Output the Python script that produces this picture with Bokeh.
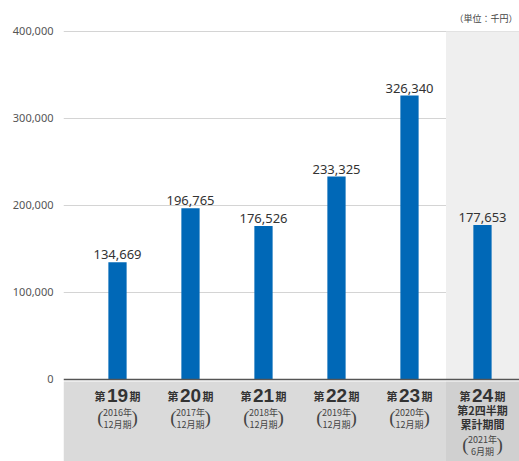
from bokeh.plotting import figure
from bokeh.models import ColumnDataSource, BoxAnnotation, Span, FixedTicker, Label, Range1d, NumeralTickFormatter
from bokeh.core.properties import value
from bokeh.embed import file_html
from bokeh.resources import INLINE

# ---- data ----
periods = ["19", "20", "21", "22", "23", "24"]
sales = [134669, 196765, 176526, 233325, 326340, 177653]
value_labels = ["134,669", "196,765", "176,526", "233,325", "326,340", "177,653"]
year_labels = ["2016年", "2017年", "2018年", "2019年", "2020年", "2021年"]
month_labels = ["12月期", "12月期", "12月期", "12月期", "12月期", "6月期"]
extra_line1 = "第2四半期"
extra_line2 = "累計期間"
y_ticks = [0, 100000, 200000, 300000, 400000]
unit_label = "（単位：千円）"

xs = list(range(len(periods)))
n_reg = 5  # regular (full-year) periods

FONT = "Noto Sans"
CJK = "Noto Sans CJK JP"

p = figure(width=519, height=461, output_backend="svg", toolbar_location=None,
           x_range=Range1d(-0.7397, 5.507), y_range=Range1d(-94253, 435632),
           min_border_left=63, min_border_right=0, min_border_top=0, min_border_bottom=0)
p.outline_line_color = None
p.xaxis.visible = False
p.xgrid.visible = False

# y axis
p.yaxis.ticker = FixedTicker(ticks=y_ticks)
p.yaxis.formatter = NumeralTickFormatter(format="0,0")
p.yaxis.axis_line_color = None
p.yaxis.major_tick_line_color = None
p.yaxis.minor_tick_line_color = None
p.yaxis.major_label_text_font = FONT
p.yaxis.major_label_text_font_size = "11px"
p.yaxis.major_label_text_color = "#555555"
p.yaxis.major_label_standoff = 4
p.ygrid.ticker = FixedTicker(ticks=y_ticks[1:])
p.ygrid.grid_line_color = "#d4d4d4"
p.ygrid.grid_line_width = 1

# backgrounds
p.add_layout(BoxAnnotation(left=n_reg - 0.5, bottom=0, top=y_ticks[-1],
                           fill_color="#efefef", fill_alpha=1, line_color=None, level="underlay"))
p.add_layout(BoxAnnotation(top=-2300, right=n_reg - 0.5, fill_color="#dadada", fill_alpha=1,
                           line_color=None, level="underlay"))
p.add_layout(BoxAnnotation(top=-2300, left=n_reg - 0.5, fill_color="#d0d0d0", fill_alpha=1,
                           line_color=None, level="underlay"))

# bars
src = ColumnDataSource(dict(x=xs, y=sales, lab=value_labels, per=periods,
                            yr=year_labels, mo=month_labels, zero=[0] * len(xs)))
p.vbar(x="x", top="y", width=0.25, source=src, fill_color="#0068b7", line_color=None)

# zero axis line
p.add_layout(Span(location=0, dimension="width", line_color="#555555", line_width=1.5))

# value labels
p.text(x="x", y="y", text="lab", source=src, text_align="center", text_baseline="bottom",
       y_offset=-3, text_font=value(FONT), text_font_size="13px", text_color="#333333")

# category labels
common = dict(source=src, text_color="#333333", text_baseline="middle")
p.text(x="x", y="zero", text="per", y_offset=16, text_align="center",
       text_font=value("Liberation Sans"), text_font_size="19px", text_font_style="bold", **common)
p.text(x="x", y="zero", text=value("第"), x_offset=-12, y_offset=17, text_align="right",
       text_font=value(CJK), text_font_size="11px", text_font_style="bold", **common)
p.text(x="x", y="zero", text=value("期"), x_offset=12, y_offset=17, text_align="left",
       text_font=value(CJK), text_font_size="11px", text_font_style="bold", **common)

reg = ColumnDataSource(dict(x=xs[:n_reg], zero=[0] * n_reg, yr=year_labels[:n_reg], mo=month_labels[:n_reg]))
last = ColumnDataSource(dict(x=xs[n_reg:], zero=[0], yr=year_labels[n_reg:], mo=month_labels[n_reg:],
                             l1=[extra_line1], l2=[extra_line2]))

def paren_block(source, dy):
    c = dict(source=source, text_color="#444444", text_baseline="middle")
    p.text(x="x", y="zero", text="yr", y_offset=dy, text_align="center", text_font_size="9px",
           text_font=value(CJK), **c)
    p.text(x="x", y="zero", text="mo", y_offset=dy + 12, text_align="center", text_font_size="9px",
           text_font=value(CJK), **c)
    p.text(x="x", y="zero", text=value("("), x_offset=-14, y_offset=dy + 5, text_align="right",
           text_font=value("Liberation Sans Narrow"), text_font_size="19px", **c)
    p.text(x="x", y="zero", text=value(")"), x_offset=14, y_offset=dy + 5, text_align="left",
           text_font=value("Liberation Sans Narrow"), text_font_size="19px", **c)

paren_block(reg, 33)
cl = dict(source=last, text_color="#333333", text_baseline="middle", text_font=value(CJK),
          text_font_style="bold", text_font_size="11px", text_align="center")
p.text(x="x", y="zero", text="l1", y_offset=31, **cl)
p.text(x="x", y="zero", text="l2", y_offset=45, **cl)
paren_block(last, 60)

# unit label
p.add_layout(Label(x=5.48, y=y_ticks[-1], text=unit_label, text_align="right", text_baseline="middle",
                   y_offset=13, text_font=CJK, text_font_size="9px", text_color="#444444"))

open("out.html", "w").write(file_html(p, INLINE))
